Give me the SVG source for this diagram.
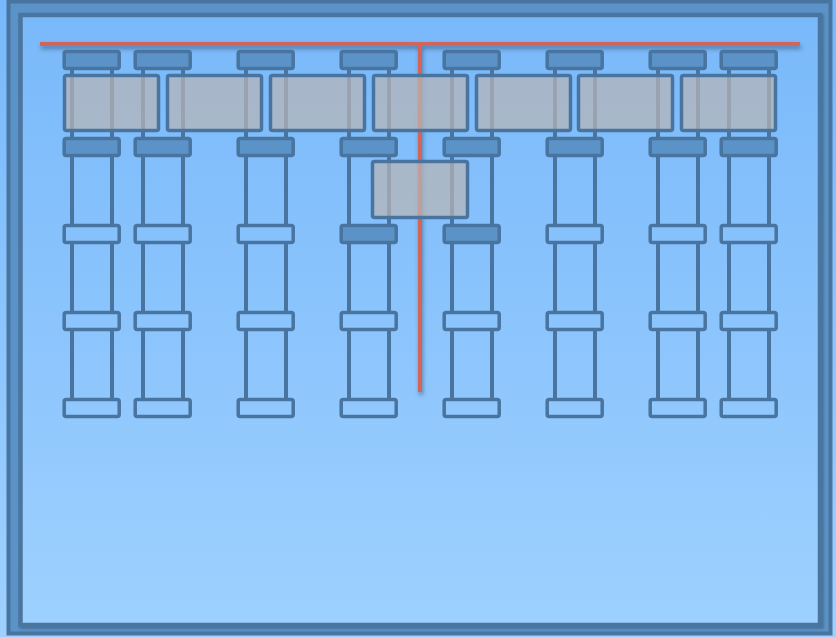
<svg xmlns="http://www.w3.org/2000/svg" width="836" height="637" viewBox="0 0 836 637">
<defs>
<linearGradient id="bg" gradientUnits="userSpaceOnUse" x1="0" y1="0" x2="0" y2="637">
<stop offset="0" stop-color="#78b8fa"/>
<stop offset="1" stop-color="#9ed1ff"/>
</linearGradient>
<filter id="sh" x="-10%" y="-10%" width="130%" height="130%">
<feDropShadow dx="1" dy="3" stdDeviation="2" flood-color="#1a3550" flood-opacity="0.5"/>
</filter>
<filter id="fsh" x="-5%" y="-5%" width="110%" height="110%">
<feDropShadow dx="1.5" dy="1.5" stdDeviation="1" flood-color="#2a4a6a" flood-opacity="0.5"/>
</filter>
</defs>
<style>
.leg{stroke:#48749f;stroke-width:4;fill:none}
.pad{stroke:#48749f;stroke-width:3.5;fill:url(#bg)}
.pad.d{fill:#5b93c8}
.blk{stroke:#48749f;stroke-width:3.5;fill:#b7b6b6;fill-opacity:0.72}
.red{stroke:#d4645a;stroke-width:4;fill:none}
</style>
<rect width="836" height="637" fill="url(#bg)"/>
<g id="frame">
<rect x="8.5" y="1.5" width="822" height="632" fill="#5b93c8" stroke="#48749f" stroke-width="4"/>
<rect x="20.5" y="15" width="799.5" height="610" fill="url(#bg)" stroke="#48749f" stroke-width="4.5" filter="url(#fsh)"/>
</g>
<g id="connectors">
<g class="legs">
<line class="leg" x1="72" y1="60" x2="72" y2="408"/><line class="leg" x1="112" y1="60" x2="112" y2="408"/>
<line class="leg" x1="143" y1="60" x2="143" y2="408"/><line class="leg" x1="183" y1="60" x2="183" y2="408"/>
<line class="leg" x1="246" y1="60" x2="246" y2="408"/><line class="leg" x1="286" y1="60" x2="286" y2="408"/>
<line class="leg" x1="349" y1="60" x2="349" y2="408"/><line class="leg" x1="389" y1="60" x2="389" y2="408"/>
<line class="leg" x1="452" y1="60" x2="452" y2="408"/><line class="leg" x1="492" y1="60" x2="492" y2="408"/>
<line class="leg" x1="555" y1="60" x2="555" y2="408"/><line class="leg" x1="595" y1="60" x2="595" y2="408"/>
<line class="leg" x1="658" y1="60" x2="658" y2="408"/><line class="leg" x1="698" y1="60" x2="698" y2="408"/>
<line class="leg" x1="729" y1="60" x2="729" y2="408"/><line class="leg" x1="769" y1="60" x2="769" y2="408"/>
</g>
<g filter="url(#sh)">
<path class="red" d="M40 44H800M420 44V392"/>
</g>
</g>
<g id="pads-row1">
<rect class="pad d" x="64.2" y="51.5" width="55" height="17" rx="2"/>
<rect class="pad d" x="135.2" y="51.5" width="55" height="17" rx="2"/>
<rect class="pad d" x="238.2" y="51.5" width="55" height="17" rx="2"/>
<rect class="pad d" x="341.2" y="51.5" width="55" height="17" rx="2"/>
<rect class="pad d" x="444.2" y="51.5" width="55" height="17" rx="2"/>
<rect class="pad d" x="547.2" y="51.5" width="55" height="17" rx="2"/>
<rect class="pad d" x="650.2" y="51.5" width="55" height="17" rx="2"/>
<rect class="pad d" x="721.2" y="51.5" width="55" height="17" rx="2"/>
</g>
<g id="pads-row2">
<rect class="pad d" x="64.2" y="138.5" width="55" height="17" rx="2"/>
<rect class="pad d" x="135.2" y="138.5" width="55" height="17" rx="2"/>
<rect class="pad d" x="238.2" y="138.5" width="55" height="17" rx="2"/>
<rect class="pad d" x="341.2" y="138.5" width="55" height="17" rx="2"/>
<rect class="pad d" x="444.2" y="138.5" width="55" height="17" rx="2"/>
<rect class="pad d" x="547.2" y="138.5" width="55" height="17" rx="2"/>
<rect class="pad d" x="650.2" y="138.5" width="55" height="17" rx="2"/>
<rect class="pad d" x="721.2" y="138.5" width="55" height="17" rx="2"/>
</g>
<g id="pads-row3">
<rect class="pad" x="64.2" y="225.5" width="55" height="17" rx="2"/>
<rect class="pad" x="135.2" y="225.5" width="55" height="17" rx="2"/>
<rect class="pad" x="238.2" y="225.5" width="55" height="17" rx="2"/>
<rect class="pad d" x="341.2" y="225.5" width="55" height="17" rx="2"/>
<rect class="pad d" x="444.2" y="225.5" width="55" height="17" rx="2"/>
<rect class="pad" x="547.2" y="225.5" width="55" height="17" rx="2"/>
<rect class="pad" x="650.2" y="225.5" width="55" height="17" rx="2"/>
<rect class="pad" x="721.2" y="225.5" width="55" height="17" rx="2"/>
</g>
<g id="pads-row4">
<rect class="pad" x="64.2" y="312.5" width="55" height="17" rx="2"/>
<rect class="pad" x="135.2" y="312.5" width="55" height="17" rx="2"/>
<rect class="pad" x="238.2" y="312.5" width="55" height="17" rx="2"/>
<rect class="pad" x="341.2" y="312.5" width="55" height="17" rx="2"/>
<rect class="pad" x="444.2" y="312.5" width="55" height="17" rx="2"/>
<rect class="pad" x="547.2" y="312.5" width="55" height="17" rx="2"/>
<rect class="pad" x="650.2" y="312.5" width="55" height="17" rx="2"/>
<rect class="pad" x="721.2" y="312.5" width="55" height="17" rx="2"/>
</g>
<g id="pads-row5">
<rect class="pad" x="64.2" y="399.5" width="55" height="17" rx="2"/>
<rect class="pad" x="135.2" y="399.5" width="55" height="17" rx="2"/>
<rect class="pad" x="238.2" y="399.5" width="55" height="17" rx="2"/>
<rect class="pad" x="341.2" y="399.5" width="55" height="17" rx="2"/>
<rect class="pad" x="444.2" y="399.5" width="55" height="17" rx="2"/>
<rect class="pad" x="547.2" y="399.5" width="55" height="17" rx="2"/>
<rect class="pad" x="650.2" y="399.5" width="55" height="17" rx="2"/>
<rect class="pad" x="721.2" y="399.5" width="55" height="17" rx="2"/>
</g>
<g id="blocks">
<rect class="blk" x="64.5" y="75.5" width="94" height="55" rx="2"/>
<rect class="blk" x="167.5" y="75.5" width="94" height="55" rx="2"/>
<rect class="blk" x="270.5" y="75.5" width="94" height="55" rx="2"/>
<rect class="blk" x="373.5" y="75.5" width="94" height="55" rx="2"/>
<rect class="blk" x="476.5" y="75.5" width="94" height="55" rx="2"/>
<rect class="blk" x="578.5" y="75.5" width="94" height="55" rx="2"/>
<rect class="blk" x="681.5" y="75.5" width="94" height="55" rx="2"/>
</g>
<g id="center-block">
<rect class="blk" x="372.5" y="161.5" width="95" height="56" rx="2"/>
</g>
</svg>
